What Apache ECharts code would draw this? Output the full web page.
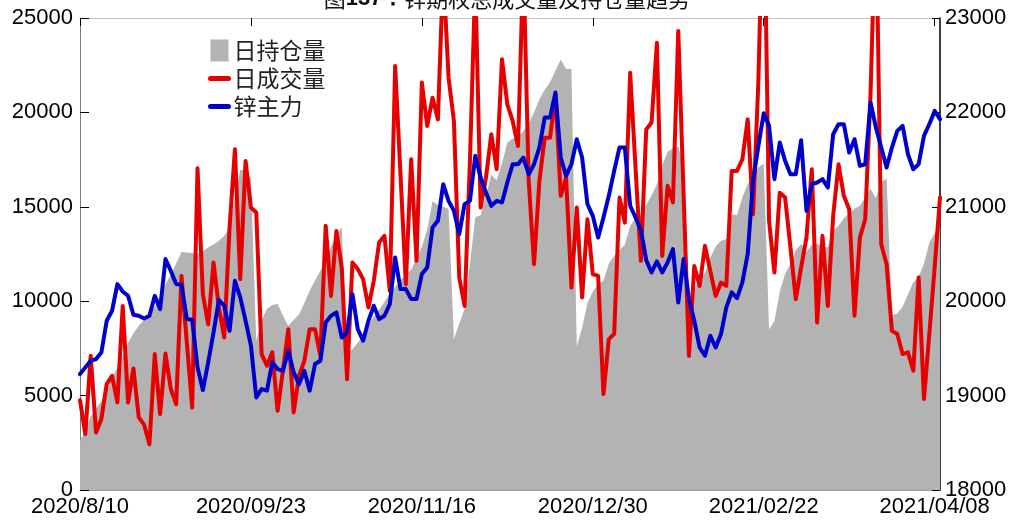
<!DOCTYPE html>
<html>
<head>
<meta charset="utf-8">
<script src="https://cdn.jsdelivr.net/npm/echarts@6/dist/echarts.min.js"></script>
<style>html,body{margin:0;padding:0;background:#fff}#c{width:1014px;height:520px}</style>
</head>
<body>
<div id="c"></div>
<script>
// Trading days (month -> days), expanded into the category list below
const tradingMonths = [
  ['2020/08', [10,11,12,13,14,17,18,19,20,21,24,25,26,27,28,31]],
  ['2020/09', [1,2,3,4,7,8,9,10,11,14,15,16,17,18,21,22,23,24,25,28,29,30]],
  ['2020/10', [9,12,13,14,15,16,19,20,21,22,23,26,27,28,29,30]],
  ['2020/11', [2,3,4,5,6,9,10,11,12,13,16,17,18,19,20,23,24,25,26,27,30]],
  ['2020/12', [1,2,3,4,7,8,9,10,11,14,15,16,17,18,21,22,23,24,25,28,29,30,31]],
  ['2021/01', [4,5,6,7,8,11,12,13,14,15,18,19,20,21,22,25,26,27,28,29]],
  ['2021/02', [1,2,3,4,5,8,9,10,18,19,22,23,24,25,26]],
  ['2021/03', [1,2,3,4,5,8,9,10,11,12,15,16,17,18,19,22,23,24,25,26,29,30,31]],
  ['2021/04', [1,2,6,7,8,9]]
];
const categories = [];
tradingMonths.forEach(function (m) {
  m[1].forEach(function (d) { categories.push(m[0] + '/' + (d < 10 ? '0' + d : '' + d)); });
});

const tickDates  = ['2020/08/10','2020/09/23','2020/11/16','2020/12/30','2021/02/22','2021/04/08'];
const tickLabels = ['2020/8/10','2020/09/23','2020/11/16','2020/12/30','2021/02/22','2021/04/08'];

// 日持仓量 (left axis)
const openInterest = [
  2610,3140,3900,4300,4700,5300,5900,6500,7100,7800,
  8300,8700,9000,9300,9700,10300,10900,11400,12000,12600,
  12580,12550,12500,12650,12850,13000,13200,13450,13900,15500,
  16950,16950,16500,7900,9000,9600,9800,9850,9230,8700,
  9000,9300,9900,10560,11100,11600,12200,12900,13500,13900,
  7200,7450,7800,8150,8700,9200,9550,9960,10400,10750,
  11100,11440,11650,12300,12900,13800,15300,15100,15000,14900,
  8000,8800,9600,12000,14450,14550,15600,16700,16400,17300,
  18400,18600,18750,19000,19400,20000,20700,21200,21600,22200,
  22800,22300,22300,7600,8600,9900,10500,10900,11100,12000,
  12400,12700,13000,14000,14400,14600,15100,15600,16200,17200,
  17900,18100,18200,17200,9700,10700,11100,11500,12300,12900,
  13200,13300,14600,14550,15500,16200,16700,17100,17300,8500,
  8950,10500,11440,12000,12700,13030,12600,13000,13050,12900,
  12860,13700,14000,14400,14650,14900,15050,15500,15950,15450,
  16300,16500,9250,9350,9700,10350,11000,11300,12000,13100,
  13600,14260
];

// 日成交量 (left axis)
const volume = [
  4760,2960,7110,3050,3760,5610,6050,4640,9750,4640,
  6440,3850,3460,2430,7200,4020,7230,5350,4550,11340,
  7800,4370,17040,10370,8780,12050,9670,8080,13900,18050,
  11170,17430,14960,14700,7200,6580,7290,4200,6350,8520,
  4110,6050,6840,8520,8520,7110,13990,10280,13720,11780,
  5870,12050,11700,11170,9670,11080,13110,13460,10540,22460,
  16720,10900,17520,12140,21580,19280,20780,19630,27500,21840,
  19540,11250,9750,17430,27000,14960,16540,18840,16990,22810,
  20430,19540,18220,28000,16370,11960,16370,18660,18660,20960,
  15580,16540,10720,14960,10200,14340,11430,11340,5080,7990,
  8260,15490,14160,22100,17080,12140,19100,19460,23690,12400,
  16110,15230,24310,15670,7110,11870,10810,12930,11610,10280,
  10990,10810,16900,16900,17520,19630,14610,21670,33000,14250,
  11520,15750,15490,12840,10110,11780,13370,16990,8870,13460,
  9750,14520,17250,15580,14870,9230,13370,14340,21000,31000,
  13020,11960,8430,8260,7200,7290,6320,11250,4820,8260,
  11780,15490
];

// 锌主力 (right axis)
const zincMain = [
  19228,19299,19369,19387,19457,19793,19899,20181,20103,20057,
  19856,19846,19817,19846,20057,19916,20446,20322,20181,20174,
  19810,19803,19299,19059,19352,19669,20012,19952,19687,20216,
  20040,19793,19528,18981,19069,19052,19352,19281,19263,19475,
  19246,19122,19263,19052,19334,19369,19775,19846,19881,19616,
  19669,20075,19705,19581,19793,19952,19810,19846,19969,20463,
  20128,20128,20022,20022,20287,20357,20781,20851,21240,21063,
  20957,20710,21028,21063,21540,21310,21151,21010,21063,21046,
  21257,21451,21451,21522,21345,21451,21628,21945,21945,22210,
  21522,21328,21451,21716,21522,21028,20904,20675,20887,21116,
  21381,21628,21628,21010,20887,20753,20435,20304,20421,20304,
  20410,20551,19987,20446,20022,19793,19510,19422,19634,19510,
  19652,19934,20093,20033,20199,20499,21275,21645,21990,21857,
  21293,21681,21487,21345,21345,21705,20957,21240,21257,21293,
  21204,21769,21875,21875,21575,21716,21434,21451,22104,21840,
  21628,21416,21628,21804,21857,21557,21398,21451,21751,21875,
  22016,21928
];

const showTick = function (idx, val) { return tickDates.indexOf(val) >= 0; };
const plainNum = function (v) { return String(v); };
const numFont = 'Liberation Sans';
const cjkFont = 'Noto Sans CJK SC';

const chart = echarts.init(document.getElementById('c'), null, {renderer: 'canvas'});
chart.setOption({
  animation: false,
  backgroundColor: '#fff',
  title: {
    text: '图{b|137：}锌期权总成交量及持仓量趋势',
    left: 'center',
    top: -12,
    padding: 0,
    textStyle: {
      fontSize: 22, fontWeight: 'normal', color: '#111', fontFamily: cjkFont,
      rich: { b: { fontSize: 22, fontWeight: 'bold', color: '#111', fontFamily: numFont } }
    }
  },
  legend: {
    orient: 'vertical',
    left: 208,
    top: 39,
    padding: 0,
    itemWidth: 18,
    itemHeight: 22,
    itemGap: 5,
    textStyle: { fontSize: 23, color: '#222', fontFamily: cjkFont },
    data: [
      { name: '日持仓量', icon: 'rect' },
      { name: '日成交量', itemStyle: { opacity: 0 }, lineStyle: { width: 5, color: '#e60000', opacity: 1 } },
      { name: '锌主力', itemStyle: { opacity: 0 }, lineStyle: { width: 5, color: '#0000cc', opacity: 1 } }
    ]
  },
  grid: { left: 80, right: 74, top: 18, bottom: 30, containLabel: false },
  xAxis: [
    {
      type: 'category', data: categories, boundaryGap: false, position: 'bottom',
      axisLine: { show: true, lineStyle: { color: '#9a9a9a', width: 1 } },
      axisTick: { show: false },
      axisLabel: {
        interval: showTick, margin: 6, fontSize: 22, color: '#000', fontFamily: numFont,
        formatter: function (v) { const k = tickDates.indexOf(v); return k >= 0 ? tickLabels[k] : ''; }
      },
      splitLine: { show: false }
    },
    {
      type: 'category', data: categories, boundaryGap: false, position: 'top',
      axisLine: { show: true, lineStyle: { color: '#c4c4c4', width: 1 } },
      axisTick: { show: true, inside: true, length: 8, interval: showTick, lineStyle: { color: '#000', width: 1 } },
      axisLabel: { show: false },
      splitLine: { show: false }
    }
  ],
  yAxis: [
    {
      type: 'value', min: 0, max: 25000, interval: 5000, position: 'left',
      axisLine: { show: true, lineStyle: { color: '#7a7a7a', width: 1 } },
      axisTick: { show: true, inside: true, length: 9, lineStyle: { color: '#000', width: 1 } },
      axisLabel: { fontSize: 22, color: '#000', margin: 7, fontFamily: numFont, formatter: plainNum },
      splitLine: { show: false }
    },
    {
      type: 'value', min: 18000, max: 23000, interval: 1000, position: 'right',
      axisLine: { show: true, lineStyle: { color: '#000', width: 1.5 } },
      axisTick: { show: true, inside: true, length: 8, lineStyle: { color: '#000', width: 1 } },
      axisLabel: { fontSize: 22, color: '#000', margin: 5, fontFamily: numFont, formatter: plainNum },
      splitLine: { show: false }
    }
  ],
  series: [
    {
      name: '日持仓量', type: 'line', xAxisIndex: 0, yAxisIndex: 0, data: openInterest,
      symbol: 'none', z: 1,
      itemStyle: { color: '#b3b3b3' },
      lineStyle: { width: 0, color: '#b3b3b3' },
      areaStyle: { color: '#b3b3b3', opacity: 1 }
    },
    {
      name: '日成交量', type: 'line', xAxisIndex: 0, yAxisIndex: 0, data: volume,
      symbol: 'none', z: 2,
      itemStyle: { color: '#e60000' },
      lineStyle: { width: 4, color: '#e60000', join: 'round', cap: 'round' }
    },
    {
      name: '锌主力', type: 'line', xAxisIndex: 0, yAxisIndex: 1, data: zincMain,
      symbol: 'none', z: 3,
      itemStyle: { color: '#0000cc' },
      lineStyle: { width: 4, color: '#0000cc', join: 'round', cap: 'round' }
    }
  ]
});
</script>
</body>
</html>
